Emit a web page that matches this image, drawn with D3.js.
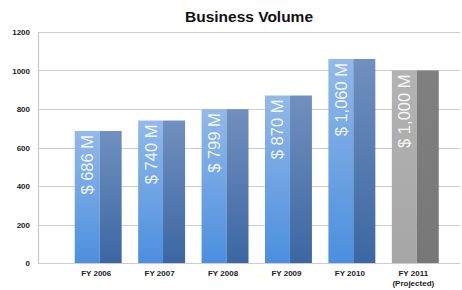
<!DOCTYPE html>
<html>
<head>
<meta charset="utf-8">
<script src="https://cdn.jsdelivr.net/npm/d3@7"></script>
<style>
  body { margin: 0; background: #fff; }
  svg { display: block; font-family: "Liberation Sans", Arial, sans-serif; }
</style>
</head>
<body>
<div id="chart"></div>
<script>
const years = ["FY 2006", "FY 2007", "FY 2008", "FY 2009", "FY 2010", "FY 2011"]
const subLabels = ["", "", "", "", "", "(Projected)"]
const volumes = [686, 740, 799, 870, 1060, 1000]
const barLabels = ["$ 686 M", "$ 740 M", "$ 799 M", "$ 870 M", "$ 1,060 M", "$ 1,000 M"]
const projected = [false, false, false, false, false, true]
const yTicks = [0, 200, 400, 600, 800, 1000, 1200]

const width = 462, height = 290
const margin = {top: 32, right: 2, bottom: 27, left: 38}

const svg = d3.select('#chart').append('svg')
  .attr('width', width).attr('height', height)

const defs = svg.append('defs')
const grad = (id, c1, c2) => {
  let g = defs.append('linearGradient').attr('id', id)
    .attr('x1', 0).attr('y1', 0).attr('x2', 0).attr('y2', 1)
  g.append('stop').attr('offset', '0%').attr('stop-color', c1)
  g.append('stop').attr('offset', '100%').attr('stop-color', c2)
}
grad('frontBlue', '#93b9e8', '#4b8fdf')
grad('sideBlue', '#7090bf', '#3b67a2')
grad('frontGray', '#b3b3b3', '#a6a6a6')
grad('sideGray', '#808080', '#777777')

let y = d3.scaleLinear()
  .domain([0, 1200])
  .range([height - margin.bottom, margin.top])

let x = d3.scaleBand()
  .domain(years)
  .range([66.5, 447])
  .paddingInner(0.26)
  .paddingOuter(0.13)

// gridlines
svg.append('g')
  .selectAll('line')
  .data(yTicks)
  .enter()
  .append('line')
  .attr('x1', margin.left)
  .attr('x2', width - margin.right)
  .attr('y1', d => Math.round(y(d)) + 0.5)
  .attr('y2', d => Math.round(y(d)) + 0.5)
  .attr('stroke', '#cccccc')
  .attr('stroke-width', 1.2)

// y axis
const yAxis = d3.axisLeft(y).tickValues(yTicks).tickFormat(d3.format('d')).tickSize(0).tickPadding(8)
svg.append('g')
  .attr('transform', `translate(${margin.left}, 0)`)
  .call(yAxis)
  .call(g => g.select('.domain').attr('stroke', '#c8c8c8').attr('stroke-width', 1.2))
  .selectAll('text')
  .attr('font-size', 8)
  .attr('font-weight', 'bold')
  .attr('fill', '#222')

const bars = svg.append('g')
  .selectAll('g')
  .data(volumes)
  .enter()
  .append('g')

// front face
bars.append('rect')
  .attr('x', (d, i) => x(years[i]))
  .attr('y', d => y(d))
  .attr('width', x.bandwidth() * 0.53)
  .attr('height', d => y(0) - y(d))
  .attr('fill', (d, i) => projected[i] ? 'url(#frontGray)' : 'url(#frontBlue)')

// side face
bars.append('rect')
  .attr('x', (d, i) => x(years[i]) + x.bandwidth() * 0.53)
  .attr('y', d => y(d))
  .attr('width', x.bandwidth() * 0.47)
  .attr('height', d => y(0) - y(d))
  .attr('fill', (d, i) => projected[i] ? 'url(#sideGray)' : 'url(#sideBlue)')

// value labels
bars.append('text')
  .attr('transform', (d, i) => {
    let cx = x(years[i]) + x.bandwidth() * 0.265 + 6
    return `translate(${cx}, ${y(d) + 4}) rotate(-90)`
  })
  .attr('text-anchor', 'end')
  .attr('font-size', 16.5)
  .attr('fill', '#fff')
  .attr('fill-opacity', 0.9)
  .text((d, i) => barLabels[i])

// category labels
svg.append('g')
  .selectAll('text')
  .data(years)
  .enter()
  .append('text')
  .attr('x', d => x(d) + x.bandwidth() / 2 - 2)
  .attr('y', 276)
  .attr('text-anchor', 'middle')
  .attr('font-size', 8)
  .attr('font-weight', 'bold')
  .attr('fill', '#222')
  .text(d => d)

svg.append('g')
  .selectAll('text')
  .data(subLabels)
  .enter()
  .append('text')
  .attr('x', (d, i) => x(years[i]) + x.bandwidth() / 2 - 2)
  .attr('y', 286)
  .attr('text-anchor', 'middle')
  .attr('font-size', 8)
  .attr('font-weight', 'bold')
  .attr('fill', '#222')
  .text(d => d)

// title
svg.append('text')
  .attr('x', 249)
  .attr('y', 22)
  .attr('text-anchor', 'middle')
  .attr('font-size', 15.5)
  .attr('font-weight', 'bold')
  .attr('fill', '#111')
  .text('Business Volume')
</script>
</body>
</html>
